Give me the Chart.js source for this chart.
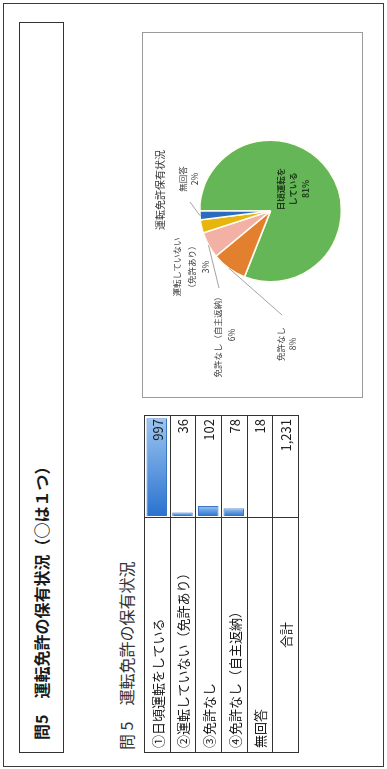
<!DOCTYPE html>
<html lang="ja">
<head>
<meta charset="utf-8">
<title>問5 運転免許の保有状況</title>
<script src="https://cdn.jsdelivr.net/npm/chart.js@4.4.1/dist/chart.umd.min.js"></script>
<style>
  html, body { margin:0; padding:0; background:#fff; }
  body { width:387px; height:769px; overflow:hidden; position:relative; }
  /* the scanned page is turned a quarter to the left, so lay it out flat and rotate */
  #page { position:absolute; left:0; top:0; width:769px; height:387px;
          transform-origin:0 0; transform:translateY(769px) rotate(-90deg);
          font-family:"Noto Sans CJK JP","Noto Sans",sans-serif; color:#1a1a1a; }
  .abs { position:absolute; box-sizing:border-box; white-space:nowrap; }
  #frame { left:2px; top:3px; width:764px; height:381px; border:1.5px solid #3a3a3a; }
  #titleBox { left:16px; top:19px; width:731px; height:45px; border:1.5px solid #333;
              font-size:16px; line-height:42px; padding-left:12px; font-weight:bold; }
  #subTitle { left:19px; top:116px; font-size:16px; line-height:20px; color:#333; }
  .cell { border:1px solid #333; font-size:13px; padding:0 4px; z-index:2; }
  .num { text-align:right; padding-right:3px; }
  #barWrap { left:251px; top:144px; width:103px; height:154px; z-index:1; }
  #pieBox { left:371px; top:142px; width:366px; height:221px; border:1px solid #9a9a9a; }
  #pieCanvas { position:absolute; left:0; top:0; }
  .plab { font-size:8.5px; color:#3a3a3a; text-align:center; z-index:3; }
  #pieTitle { left:539px; top:153px; width:80px; text-align:center; font-size:10px; line-height:14px; color:#333; }
</style>
</head>
<body>
<div id="page">
  <div id="frame" class="abs"></div>
  <div id="titleBox" class="abs">問5　運転免許の保有状況（○は１つ）</div>
  <div id="subTitle" class="abs">問 5　運転免許の保有状況</div>
  <div id="barWrap" class="abs"><canvas id="barCanvas" width="103" height="154"></canvas></div>
  <div id="pieBox" class="abs"></div>
  <canvas id="pieCanvas" width="364" height="219" style="position:absolute;left:372px;top:143px;"></canvas>
  <div id="pieTitle" class="abs">運転免許保有状況</div>
</div>
<script>
// table rows
const rowLabels = ['①日頃運転をしている', '②運転していない（免許あり）', '③免許なし', '④免許なし（自主返納）', '無回答', '合計'];
const rowCounts = [997, 36, 102, 78, 18, 1231];
// data bars only on the four answer rows
const barValues = [997, 36, 102, 78, null, null];

// pie, in drawing order (clockwise from 12 o'clock)
const pieLabels = ['日頃運転をしている', '免許なし', '免許なし（自主返納）', '運転していない（免許あり）', '無回答'];
const pieShares = [81, 8, 6, 3, 2];
const pieColors = ['#64b656', '#e3802f', '#f2b1a4', '#e6b60f', '#2b6cc0'];
const pieLabelLines = [['日頃運転を', 'している'], ['免許なし'], ['免許なし（自主返納）'], ['運転していない', '（免許あり）'], ['無回答']];

const page = document.getElementById('page');

// table cells
const tblLeft = 16, tblTop = 144, labW = 236, valW = 103, rowH = 154 / 6;
rowLabels.forEach((lab, i) => {
  const top = tblTop + Math.round(i * rowH);
  const h = tblTop + Math.round((i + 1) * rowH) - top + 1;
  const a = document.createElement('div');
  a.className = 'abs cell';
  a.style.cssText = `left:${tblLeft}px;top:${top}px;width:${labW}px;height:${h}px;line-height:${h - 2}px;` +
    (lab === '合計' ? 'text-align:center;' : '');
  a.textContent = lab;
  page.appendChild(a);
  const b = document.createElement('div');
  b.className = 'abs cell num';
  b.style.cssText = `left:${tblLeft + labW - 1}px;top:${top}px;width:${valW}px;height:${h}px;line-height:${h - 2}px;`;
  b.textContent = rowCounts[i].toLocaleString('en-US');
  page.appendChild(b);
});

function barFill(c) {
  const chart = c.chart;
  if (!chart.chartArea || c.raw == null) return '#3a80d8';
  const x0 = chart.scales.x.getPixelForValue(0);
  const x1 = chart.scales.x.getPixelForValue(c.raw);
  const g = chart.ctx.createLinearGradient(x0, 0, Math.max(x1, x0 + 1), 0);
  g.addColorStop(0, '#2a72d0');
  g.addColorStop(1, '#9cc5f0');
  return g;
}

new Chart(document.getElementById('barCanvas'), {
  type: 'bar',
  data: {
    labels: rowLabels,
    datasets: [{
      data: barValues,
      backgroundColor: barFill,
      borderColor: '#3a76c4',
      borderWidth: 1,
      barPercentage: 0.8,
      categoryPercentage: 1
    }]
  },
  options: {
    indexAxis: 'y',
    responsive: false,
    animation: false,
    layout: { padding: { left: 2, right: 3, top: 0, bottom: 0 } },
    plugins: { legend: { display: false }, tooltip: { enabled: false } },
    scales: { x: { display: false, min: 0, max: 1000 }, y: { display: false } }
  }
});

// leader line ends, canvas-relative (null = no leader)
const leaderEnds = [null, [82, 139], [109, 76], null, [195, 47]];
const leaders = {
  id: 'leaders',
  afterDatasetsDraw(chart) {
    const ctx = chart.ctx;
    const arcs = chart.getDatasetMeta(0).data;
    ctx.save();
    ctx.strokeStyle = '#8c8c8c';
    ctx.lineWidth = 0.8;
    leaderEnds.forEach((p, i) => {
      if (!p) return;
      const a = arcs[i];
      const mid = (a.startAngle + a.endAngle) / 2;
      ctx.beginPath();
      ctx.moveTo(a.x + Math.cos(mid) * a.outerRadius, a.y + Math.sin(mid) * a.outerRadius);
      ctx.lineTo(p[0], p[1]);
      ctx.stroke();
    });
    ctx.restore();
  }
};

new Chart(document.getElementById('pieCanvas'), {
  type: 'pie',
  data: {
    labels: pieLabels,
    datasets: [{ data: pieShares, backgroundColor: pieColors, borderColor: '#fffdf0', borderWidth: 1.5 }]
  },
  options: {
    responsive: false,
    animation: false,
    layout: { padding: { left: 114, right: 106, top: 56, bottom: 20 } },
    plugins: { legend: { display: false }, tooltip: { enabled: false } }
  },
  plugins: [leaders]
});

// data labels: centre (u) and top (v) on the page, line height
const labelPos = [[580, 274, 12.3], [425, 274, 12], [434, 211, 13.5], [502, 169, 14.5], [590, 176, 12]];
pieLabelLines.forEach((lines, i) => {
  const [cu, tv, lh] = labelPos[i];
  const d = document.createElement('div');
  d.className = 'abs plab';
  d.style.cssText = `left:${cu - 50}px;top:${tv}px;width:100px;line-height:${lh}px;` +
    (i === 0 ? 'color:#1f3a1c;font-weight:bold;' : '');
  d.innerHTML = lines.concat(pieShares[i] + '%').join('<br>');
  page.appendChild(d);
});
</script>
</body>
</html>
